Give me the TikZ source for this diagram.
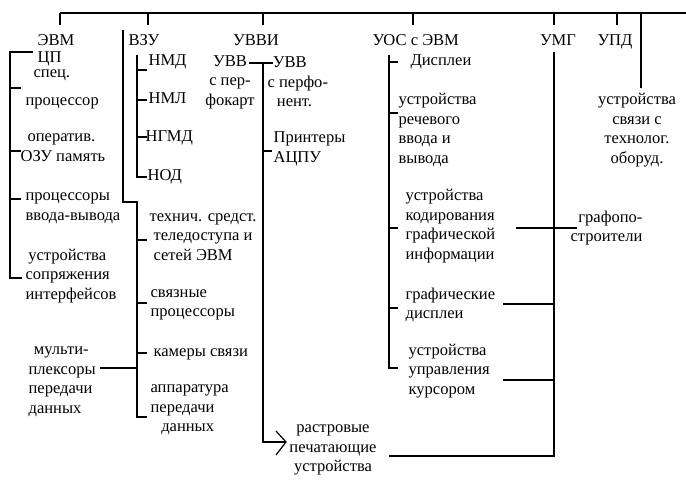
\documentclass[tikz,border=0pt]{standalone}
\usepackage{fontspec}
\setmainfont{Liberation Serif}
\begin{document}
\begin{tikzpicture}[x=0.75pt,y=-0.75pt,line width=0.9pt,
  every node/.style={inner sep=0pt,font=\fontsize{12.4}{14.6}\selectfont},
  lbl/.style={anchor=west,align=left},
  clbl/.style={align=center},
  one/.style={text height=8.5pt,text depth=2.5pt}]
  \useasboundingbox (0,0) rectangle (686,488);
  % top bus
  \node (v0) at (60,13) {};
  \node (v1) at (686,13) {};
  \node (v2) at (60,25) {};
  \node (v3) at (148,13) {};
  \node (v4) at (148,25) {};
  \node (v5) at (263,13) {};
  \node (v6) at (263,25) {};
  \node (v7) at (413,13) {};
  \node (v8) at (413,25) {};
  \node (v9) at (554,13) {};
  \node (v10) at (554,25) {};
  \node (v11) at (617,13) {};
  \node (v12) at (617,25) {};
  \node (v13) at (641,13) {};
  \node (v14) at (641,88) {};
  % EVM branch
  \node (v15) at (10,52) {};
  \node (v16) at (33,52) {};
  \node (v17) at (10,88) {};
  \node (v18) at (21,88) {};
  \node (v19) at (10,151) {};
  \node (v20) at (21,151) {};
  \node (v21) at (10,199) {};
  \node (v22) at (21,199) {};
  \node (v23) at (10,278) {};
  \node (v24) at (22,278) {};
  % VZU branch
  \node (v25) at (123,30) {};
  \node (v26) at (123,202) {};
  \node (v27) at (137,202) {};
  \node (v28) at (137,417) {};
  \node (v29) at (147,417) {};
  \node (v30) at (137,55) {};
  \node (v31) at (137,177) {};
  \node (v32) at (147,177) {};
  \node (v33) at (137,70) {};
  \node (v34) at (147,70) {};
  \node (v35) at (137,100) {};
  \node (v36) at (147,100) {};
  \node (v37) at (137,137) {};
  \node (v38) at (147,137) {};
  \node (v39) at (137,240) {};
  \node (v40) at (147,240) {};
  \node (v41) at (137,303) {};
  \node (v42) at (147,303) {};
  \node (v43) at (137,353) {};
  \node (v44) at (147,353) {};
  \node (v45) at (100,368) {};
  \node (v46) at (137,368) {};
  % UVVI branch
  \node (v47) at (249,63) {};
  \node (v48) at (273,63) {};
  \node (v49) at (263,63) {};
  \node (v50) at (263,442) {};
  \node (v51) at (286,442) {};
  \node (v52) at (263,151) {};
  \node (v53) at (272,151) {};
  \node (v54) at (276,431) {};
  \node (v55) at (276,455) {};
  % UOS branch
  \node (v56) at (389,55) {};
  \node (v57) at (389,368) {};
  \node (v58) at (398,368) {};
  \node (v59) at (389,62) {};
  \node (v60) at (398,62) {};
  \node (v61) at (389,113) {};
  \node (v62) at (398,113) {};
  \node (v63) at (389,228) {};
  \node (v64) at (398,228) {};
  \node (v65) at (389,308) {};
  \node (v66) at (398,308) {};
  % UMG branch
  \node (v67) at (554,52) {};
  \node (v68) at (554,456) {};
  \node (v69) at (389,456) {};
  \node (v70) at (503,304) {};
  \node (v71) at (554,304) {};
  \node (v72) at (503,380) {};
  \node (v73) at (554,380) {};
  \node (v74) at (516,228) {};
  \node (v75) at (577,228) {};

  % labels
  \node[lbl,one] (t0) at (37,42) {ЭВМ};
  \node[lbl,one] (t1) at (37,59) {ЦП};
  \node[lbl,one] (t2) at (33,74) {спец.};
  \node[lbl,one] (t3) at (25,102) {процессор};
  \node[lbl,one] (t4) at (27,138) {оператив.};
  \node[lbl,one] (t5) at (20,158) {ОЗУ память};
  \node[lbl] (t6) at (25,208) {процессоры\\ввода-вывода};
  \node[lbl] (t7) at (25,276) {\hspace*{2pt}устройства\\сопряжения\\интерфейсов};
  \node[lbl] (t8) at (28,382) {\hspace*{4pt}мульти-\\плексоры\\передачи\\данных};
  \node[lbl,one] (t9) at (128,42) {ВЗУ};
  \node[lbl,one] (t10) at (148,62) {НМД};
  \node[lbl,one] (t11) at (148,100) {НМЛ};
  \node[lbl,one] (t12) at (145,138) {НГМД};
  \node[lbl,one] (t13) at (147,177) {НОД};
  \node[lbl] (t14) at (149,237) {технич. средст.\\\hspace*{3pt}теледоступа и\\\hspace*{3pt}сетей ЭВМ};
  \node[lbl] (t15) at (150,305) {связные\\процессоры};
  \node[lbl,one] (t16) at (153,353) {камеры связи};
  \node[lbl] (t17) at (150,410) {аппаратура\\передачи\\\hspace*{8pt}данных};
  \node[clbl,one] (t18) at (256,42) {УВВИ};
  \node[clbl] (t19) at (230,82) {УВВ\\с пер-\\фокарт};
  \node[lbl] (t20) at (267,82) {\hspace*{4pt}УВВ\\с перфо-\\\hspace*{7pt}нент.};
  \node[lbl] (t21) at (273,149) {Принтеры\\АЦПУ};
  \node[clbl] (t22) at (333,450) {растровые\\печатающие\\устройства};
  \node[lbl,one] (t23) at (372,42) {УОС с ЭВМ};
  \node[lbl,one] (t24) at (410,62) {Дисплеи};
  \node[lbl] (t25) at (398,130) {устройства\\речевого\\ввода и\\вывода};
  \node[lbl] (t26) at (405,226) {устройства\\кодирования\\графической\\информации};
  \node[lbl] (t27) at (405,305) {графические\\дисплеи};
  \node[lbl] (t28) at (408,371) {устройства\\управления\\курсором};
  \node[clbl,one] (t29) at (558,42) {УМГ};
  \node[clbl,one] (t30) at (615,42) {УПД};
  \node[clbl] (t31) at (637,130) {устройства\\связи с\\технолог.\\оборуд.};
  \node[anchor=east,align=right] (t32) at (643,228) {графопо-\\строители};

  % top bus
  \draw (v0.center) to (v1.center);
  \draw (v0.center) to (v2.center);
  \draw (v3.center) to (v4.center);
  \draw (v5.center) to (v6.center);
  \draw (v7.center) to (v8.center);
  \draw (v9.center) to (v10.center);
  \draw (v11.center) to (v12.center);
  \draw (v13.center) to (v14.center);
  % EVM branch
  \draw (v16.center) -- (v15.center) -- (v23.center) -- (v24.center);
  \draw (v17.center) to (v18.center);
  \draw (v19.center) to (v20.center);
  \draw (v21.center) to (v22.center);
  % VZU branch
  \draw (v25.center) -- (v26.center) -- (v27.center) -- (v28.center) -- (v29.center);
  \draw (v30.center) -- (v31.center) -- (v32.center);
  \draw (v33.center) to (v34.center);
  \draw (v35.center) to (v36.center);
  \draw (v37.center) to (v38.center);
  \draw (v39.center) to (v40.center);
  \draw (v41.center) to (v42.center);
  \draw (v43.center) to (v44.center);
  \draw (v45.center) to (v46.center);
  % UVVI branch
  \draw (v47.center) to (v48.center);
  \draw (v49.center) -- (v50.center) -- (v51.center);
  \draw (v52.center) to (v53.center);
  \draw (v54.center) -- (v51.center) -- (v55.center);
  % UOS branch
  \draw (v56.center) -- (v57.center) -- (v58.center);
  \draw (v59.center) to (v60.center);
  \draw (v61.center) to (v62.center);
  \draw (v63.center) to (v64.center);
  \draw (v65.center) to (v66.center);
  % UMG branch
  \draw (v67.center) -- (v68.center) -- (v69.center);
  \draw (v70.center) to (v71.center);
  \draw (v72.center) to (v73.center);
  \draw (v74.center) to (v75.center);
\end{tikzpicture}
\end{document}
